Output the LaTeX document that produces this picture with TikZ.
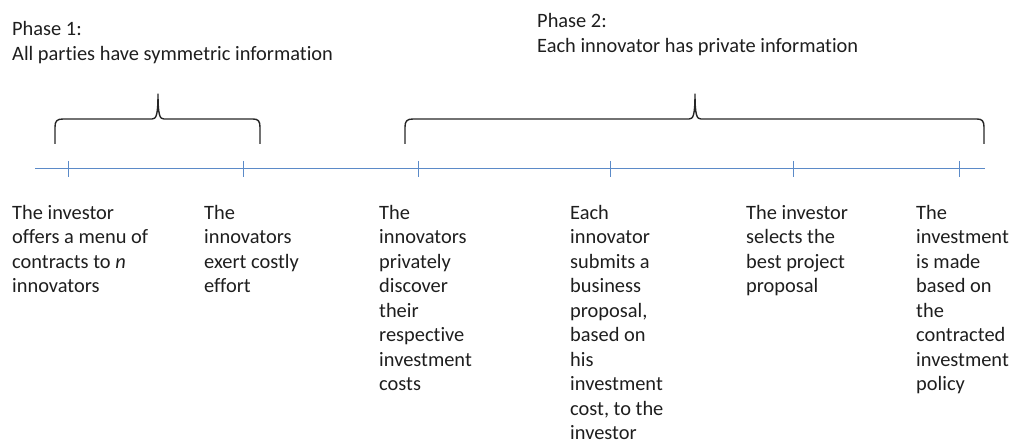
\documentclass[tikz,border=0pt]{standalone}
\usepackage{fontspec}
\setmainfont[Ligatures=NoCommon]{Carlito}
\usetikzlibrary{positioning,calc}
\definecolor{axisblue}{RGB}{91,138,200}
\definecolor{txtgray}{RGB}{30,30,30}
\tikzset{
  event/.style={anchor=north west,inner sep=0pt,align=left,text=txtgray,font=\fontsize{20.4}{24.5}\selectfont},
  phase/.style={anchor=north west,inner sep=0pt,align=left,text=txtgray,font=\fontsize{20.4}{25}\selectfont},
  brace/.style={line width=1.4pt,black!85,line join=round},
  axis/.style={axisblue,line width=1pt}
}

\begin{document}
\begin{tikzpicture}[x=1pt,y=-1pt]
\useasboundingbox (0,0) rectangle (1013,443);
\coordinate (L) at (35,169);
\coordinate (R) at (985,169);
\draw[axis] (L) -- (R);
\foreach \x/\n in {68/1,243/2,418/3,610/4,793/5,959/6}{
  \coordinate (T\n) at (\x,169);
  \draw[axis] ($(T\n)+(0,-8)$) -- ($(T\n)+(0,8)$);
}
\coordinate (P) at (158,94);
\coordinate (Q) at (695,94);
\draw[brace] (55,144) -- (55,127) .. controls (55,121) and (57,119) .. (63,119)
  -- (152,119) .. controls (156,119) and (158,116) .. (P)
  .. controls (158,116) and (160,119) .. (164,119)
  -- (253,119) .. controls (258,119) and (260,121) .. (260,127) -- (260,144);
\draw[brace] (405,144) -- (405,127) .. controls (405,121) and (407,119) .. (413,119)
  -- (689,119) .. controls (693,119) and (695,116) .. (Q)
  .. controls (695,116) and (697,119) .. (701,119)
  -- (977,119) .. controls (982,119) and (984,121) .. (984,127) -- (984,144);
\node[phase] (ph1) at (12,21) {Phase 1:\\All parties have symmetric information};
\node[phase] (ph2) at (537,13) {Phase 2:\\Each innovator has private information};
\node[event] (e1) at (12,205) {The investor\\offers a menu of\\contracts to \textit{n}\\innovators};
\node[event] (e2) at (204,205) {The\\innovators\\exert costly\\effort};
\node[event] (e3) at (379,205) {The\\innovators\\privately\\discover\\their\\respective\\investment\\costs};
\node[event] (e4) at (570,205) {Each\\innovator\\submits a\\business\\proposal,\\based on\\his\\investment\\cost, to the\\investor};
\node[event] (e5) at (746,205) {The investor\\selects the\\best project\\proposal};
\node[event] (e6) at (916,205) {The\\investment\\is made\\based on\\the\\contracted\\investment\\policy};
\end{tikzpicture}
\end{document}
